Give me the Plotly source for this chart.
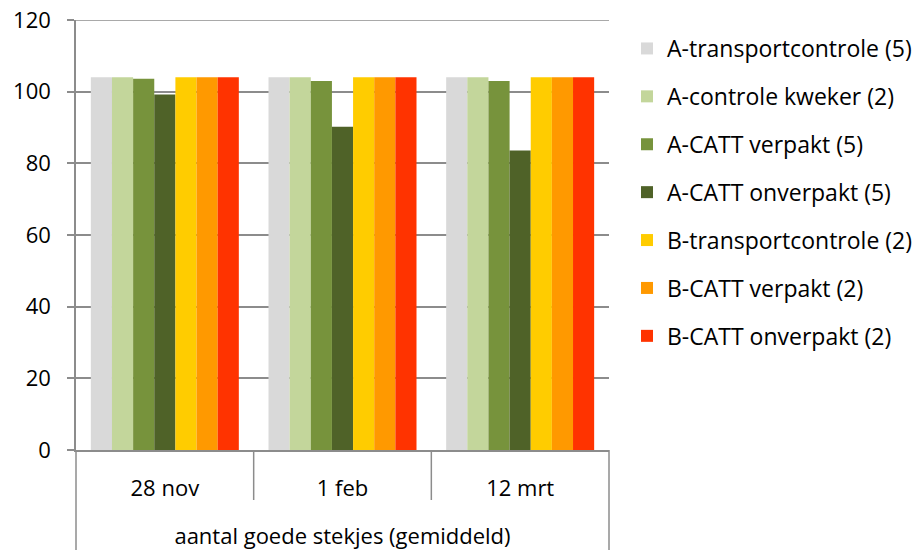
import plotly.graph_objects as go

categories = ["28 nov", "1 feb", "12 mrt"]
axis_group_label = "aantal goede stekjes (gemiddeld)"

series_names = [
    "A-transportcontrole (5)",
    "A-controle kweker (2)",
    "A-CATT verpakt (5)",
    "A-CATT onverpakt (5)",
    "B-transportcontrole (2)",
    "B-CATT verpakt (2)",
    "B-CATT onverpakt (2)",
]
a_transportcontrole = [104, 104, 104]
a_controle_kweker = [104, 104, 104]
a_catt_verpakt = [103.6, 103.0, 103.0]
a_catt_onverpakt = [99.2, 90.2, 83.6]
b_transportcontrole = [104, 104, 104]
b_catt_verpakt = [104, 104, 104]
b_catt_onverpakt = [104, 104, 104]
series_values = [
    a_transportcontrole, a_controle_kweker, a_catt_verpakt, a_catt_onverpakt,
    b_transportcontrole, b_catt_verpakt, b_catt_onverpakt,
]
colors = ["#D9D9D9", "#C3D69B", "#77933C", "#4F6228", "#FFCC00", "#FF9900", "#FF3300"]

y_ticks = [0, 20, 40, 60, 80, 100, 120]

FONT = "Open Sans"
FS = 22
FSL = 23
fig = go.Figure()
for i, (name, vals, col) in enumerate(zip(series_names, series_values, colors)):
    fig.add_trace(go.Bar(
        x=categories, y=vals, name=name, legendgroup=f"g{i}",
        marker=dict(color=col, line=dict(width=0)),
    ))

W, H = 921, 550
ml, mr, mt, mb = 76, 312, 20, 100
pw = W - ml - mr
ph = H - mt - mb
grid = "#8C8C8C"

fig.update_layout(
    width=W, height=H,
    margin=dict(l=ml, r=mr, t=mt, b=mb, pad=0, autoexpand=False),
    paper_bgcolor="white", plot_bgcolor="white",
    barmode="group", bargap=0.167, bargroupgap=0,
    font=dict(family=FONT, size=FS, color="#000000"),
    showlegend=True,
    legend=dict(
        x=(627 - ml) / pw, xanchor="left",
        y=1 + (mt - 27) / ph, yanchor="top",
        traceorder="grouped", tracegroupgap=15,
        maxheight=1.0,
        font=dict(family=FONT, size=FSL, color="#000000"),
        bgcolor="rgba(0,0,0,0)",
    ),
    xaxis=dict(
        type="category", showgrid=False, showline=True, linecolor=grid, linewidth=1.5,
        ticks="outside", ticklen=18, tickcolor="rgba(0,0,0,0)",
        tickfont=dict(family=FONT, size=FS, color="#000000"),
        title=dict(text=axis_group_label, standoff=31, font=dict(family=FONT, size=FS, color="#000000")),
        automargin=False, fixedrange=True,
    ),
    yaxis=dict(
        range=[0, 120], tickvals=y_ticks, showgrid=True, gridcolor=grid, gridwidth=1.5,
        showline=True, linecolor=grid, linewidth=1.5,
        ticks="outside", ticklen=7, tickcolor=grid, tickwidth=1.5,
        ticklabelstandoff=12, ticklabeloverflow="allow",
        tickfont=dict(family=FONT, size=FS, color="#000000"),
        zeroline=False, automargin=False, fixedrange=True,
    ),
)

# top gridline (edge gridlines are clipped by plotly)
fig.add_shape(type="line", xref="paper", yref="y", x0=0, x1=1, y0=y_ticks[-1], y1=y_ticks[-1],
              line=dict(color=grid, width=1.5))
fig.add_shape(type="line", xref="paper", yref="paper", x0=0, x1=0, y0=0, y1=-(mb + 10) / ph,
              line=dict(color=grid, width=1.5))
fig.add_shape(type="line", xref="paper", yref="paper", x0=1, x1=1, y0=0, y1=-(mb + 10) / ph,
              line=dict(color=grid, width=1.5))
for k in range(1, len(categories)):
    fig.add_shape(type="line", xref="x", yref="paper", x0=k - 0.5, x1=k - 0.5,
                  y0=0, y1=-50 / ph, line=dict(color=grid, width=1.5))

fig.write_html(
    "out.html",
    config={"displayModeBar": False},
    post_script="document.body.style.margin='0';document.body.style.overflow='hidden';",
)
